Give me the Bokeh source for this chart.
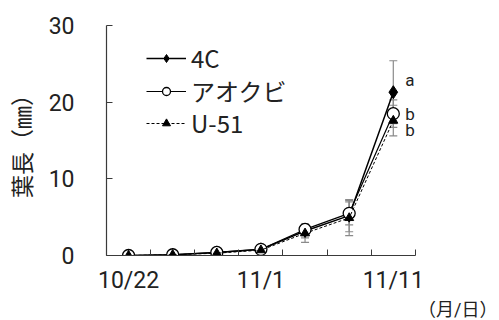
from bokeh.plotting import figure
from bokeh.models import (Range1d, FixedTicker, ColumnDataSource, Whisker, TeeHead,
                          Legend, LegendItem, Title)
from bokeh.core.properties import value
from bokeh.embed import file_html
from bokeh.resources import INLINE

# Sampling index (days shown on the category axis)
idx = [0, 1, 2, 3, 4, 5, 6]
tick_pos = [0, 3, 6]
tick_labels = ["10/22", "11/1", "11/11"]

# Leaf length (mm): means and standard errors
c4_mean = [0.0, 0.1, 0.4, 0.8, 3.2, 5.2, 21.3]
c4_err = [0.1, 0.1, 0.1, 0.2, 0.9, 2.1, 4.1]
aokubi_mean = [0.0, 0.1, 0.4, 0.8, 3.4, 5.5, 18.5]
aokubi_err = [0.1, 0.1, 0.1, 0.2, 0.6, 1.5, 1.8]
u51_mean = [0.0, 0.1, 0.3, 0.7, 2.9, 4.9, 17.6]
u51_err = [0.1, 0.1, 0.1, 0.2, 1.2, 2.3, 2.0]

names = ["4C", "アオクビ", "U-51"]
letters = ["a", "b", "b"]

JP = "Noto Sans CJK JP"
NUM = "Roboto"
AX = "#3a3a3a"

# the frame runs to the right edge; the x axis itself stops at 6.5
p = figure(width=499, height=320, output_backend="svg", toolbar_location=None,
           x_range=Range1d(-0.5, 8.407), y_range=Range1d(0, 30),
           min_border_left=102, min_border_right=0, min_border_top=25,
           min_border_bottom=65)
p.outline_line_color = None
p.xgrid.visible = False
p.ygrid.visible = False
p.background_fill_color = "white"
p.border_fill_color = "white"

# x axis: labels every third sample, ticks between samples
p.xaxis.bounds = (-0.5, 6.5)
p.xaxis.ticker = FixedTicker(ticks=tick_pos,
                             minor_ticks=[i - 0.5 for i in idx] + [6.5])
p.xaxis.major_label_overrides = {pos: lab for pos, lab in zip(tick_pos, tick_labels)}
p.xaxis.major_tick_line_color = None
p.xaxis.minor_tick_in = 6
p.xaxis.minor_tick_out = 0
p.xaxis.minor_tick_line_color = AX
p.xaxis.axis_line_color = AX
p.xaxis.axis_line_width = 1.2
p.xaxis.major_label_text_font = NUM
p.xaxis.major_label_text_font_size = "23px"
p.xaxis.major_label_text_color = "#222"
p.xaxis.major_label_standoff = 5

p.yaxis.ticker = FixedTicker(ticks=[0, 10, 20, 30])
p.yaxis.major_tick_in = 6
p.yaxis.major_tick_out = 0
p.yaxis.major_tick_line_color = AX
p.yaxis.minor_tick_line_color = None
p.yaxis.axis_line_color = AX
p.yaxis.axis_line_width = 1.2
p.yaxis.major_label_text_font = NUM
p.yaxis.major_label_text_font_size = "23px"
p.yaxis.major_label_text_color = "#222"
p.yaxis.major_label_standoff = 32
p.yaxis.axis_label = "葉長（㎜）"
p.yaxis.axis_label_text_font = JP
p.yaxis.axis_label_text_font_size = "23px"
p.yaxis.axis_label_text_font_style = "normal"
p.yaxis.axis_label_text_color = "#222"
p.yaxis.axis_label_standoff = 8

series = [
    (c4_mean, c4_err),
    (aokubi_mean, aokubi_err),
    (u51_mean, u51_err),
]

# error bars
for mean, err in series:
    src = ColumnDataSource(dict(x=idx, lo=[m - e for m, e in zip(mean, err)],
                                hi=[m + e for m, e in zip(mean, err)]))
    w = Whisker(base="x", lower="lo", upper="hi", source=src,
                line_color="#8a8a8a", line_width=1.2,
                upper_head=TeeHead(size=8, line_color="#8a8a8a", line_width=1.2),
                lower_head=TeeHead(size=8, line_color="#8a8a8a", line_width=1.2))
    p.add_layout(w)

l1 = p.line(idx, c4_mean, line_color="black", line_width=1.5)
m1 = p.scatter(idx, c4_mean, marker="diamond", size=13, fill_color="black",
               line_color="black")
l2 = p.line(idx, aokubi_mean, line_color="black", line_width=1.2)
m2 = p.scatter(idx, aokubi_mean, marker="circle", size=12, fill_color="white",
               line_color="black", line_width=1.3)
l3 = p.line(idx, u51_mean, line_color="black", line_width=1, line_dash="3 2")
m3 = p.scatter(idx, u51_mean, marker="triangle", size=9, fill_color="black",
               line_color="black")

# significance letters at the final sample
for mean, letter, dy in zip([c4_mean, aokubi_mean, u51_mean], letters, [-12, 0, 9]):
    p.text(x=[idx[-1]], y=[mean[-1]], text=[letter], x_offset=12, y_offset=dy,
           text_font=value(NUM), text_font_size="17px", text_color="#222",
           text_baseline="middle", text_align="left")

# one legend per series so each row sits at its own height
rows = [([l1, m1], 180), ([l2, m2], 147), ([l3, m3], 115)]
for name, (rends, ybot) in zip(names, rows):
    lg = Legend(items=[LegendItem(label=name, renderers=rends)],
                location=(40, ybot), glyph_width=40, glyph_height=20,
                label_height=20, padding=0, margin=0, label_standoff=5,
                label_text_font=JP, label_text_font_size="24px",
                label_text_color="#222", border_line_color=None,
                background_fill_alpha=0)
    p.add_layout(lg)

# unit note under the right end of the x axis
p.add_layout(Title(text="（月/日）", align="right", offset=2, standoff=0,
                   text_font="Roboto, 'Noto Sans CJK JP'", text_font_size="18px",
                   text_color="#222", text_font_style="normal"), "below")

open("out.html", "w").write(file_html(p, INLINE))
